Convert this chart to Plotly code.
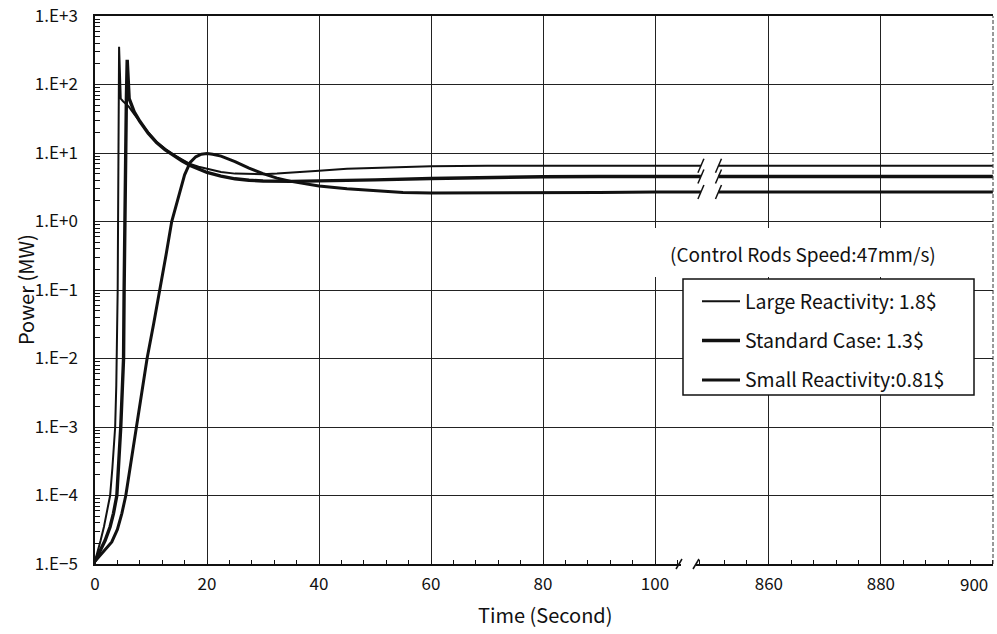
import math
import plotly.graph_objects as go

# ---------------- data ----------------
large_t = [0, 0.5, 1.0, 1.6, 2.1, 2.7, 3.1, 3.4, 3.6, 3.8, 3.95, 4.05, 4.12, 4.2, 4.25, 4.3,
           4.45, 4.6, 5.0, 6.0, 7.0, 8.0, 9.5, 11, 12.5, 14, 15.5, 17, 18.5, 20, 22.5, 25,
           27.5, 30, 32.5, 35, 40, 45, 50, 55, 60, 70, 80, 90, 100, 108.2,
           851, 860, 870, 880, 890, 900]
large_p = [1.1e-5, 1.5e-5, 2.2e-5, 3.5e-5, 5.5e-5, 1.0e-4, 2.5e-4, 6e-4, 1.0e-3, 4e-3, 1.5e-2,
           0.1, 1.0, 10, 60, 355, 150, 62, 57, 48, 37, 29, 20, 14.5, 11.5, 9.5, 8.0, 6.9,
           6.3, 5.9, 5.3, 5.0, 4.9, 4.9, 5.0, 5.2, 5.5, 5.9, 6.1, 6.3, 6.4, 6.5, 6.5, 6.5,
           6.5, 6.5, 6.5, 6.5, 6.5, 6.5, 6.5, 6.5]

standard_t = [0, 0.8, 1.8, 2.7, 3.3, 3.9, 4.3, 4.6, 4.9, 5.1, 5.2, 5.3, 5.45, 5.6, 5.75, 5.9,
              6.1, 7.0, 8.0, 9.5, 11, 12.5, 14, 15.5, 17, 18.5, 20, 22.5, 25, 27.5, 30, 35,
              40, 45, 50, 60, 70, 80, 90, 100, 108.2,
              851, 860, 870, 880, 890, 900]
standard_p = [1.1e-5, 1.5e-5, 2.2e-5, 3.5e-5, 5.5e-5, 1.0e-4, 3e-4, 1.0e-3, 4e-3, 1.0e-2, 0.1,
              1.0, 10, 60, 230, 120, 62, 40, 29, 19.5, 14.2, 11.2, 9.2, 7.7, 6.6, 5.8, 5.2,
              4.6, 4.2, 4.0, 3.9, 3.85, 3.9, 3.95, 4.05, 4.25, 4.4, 4.5, 4.55, 4.55, 4.55,
              4.55, 4.55, 4.55, 4.55, 4.55, 4.55]

small_t = [0, 1, 2, 3, 4, 4.8, 5.5, 6.5, 7.4, 8.4, 9.3, 10.5, 11.6, 12.7, 13.7, 14.9, 16, 17,
           18, 19, 20, 21, 22.5, 25, 27.5, 30, 32.5, 35, 40, 45, 50, 55, 60, 70, 80, 90, 100,
           108.2, 851, 860, 870, 880, 890, 900]
small_p = [1.1e-5, 1.35e-5, 1.7e-5, 2.1e-5, 3.2e-5, 5.5e-5, 1.0e-4, 3.3e-4, 1.0e-3, 3.3e-3,
           1.0e-2, 3.3e-2, 0.1, 0.33, 1.0, 2.3, 4.8, 7.3, 8.8, 9.6, 9.8, 9.6, 9.0, 7.5, 6.0,
           5.0, 4.3, 3.85, 3.3, 3.0, 2.8, 2.65, 2.6, 2.6, 2.62, 2.65, 2.7, 2.7,
           2.7, 2.7, 2.7, 2.7, 2.7, 2.7]

series_names = ["Large Reactivity: 1.8$", "Standard Case: 1.3$", "Small Reactivity:0.81$"]
series_widths = [2.0, 3.4, 3.0]

y_tickvals = [1e-5, 1e-4, 1e-3, 1e-2, 1e-1, 1e0, 1e1, 1e2, 1e3]
y_ticktext = ["1.E\u22125", "1.E\u22124", "1.E\u22123", "1.E\u22122", "1.E\u22121",
              "1.E+0", "1.E+1", "1.E+2", "1.E+3"]
x_left_ticks = [0, 20, 40, 60, 80, 100]
x_left_text = ["0", "20", "40", "60", "80", "100"]
x_right_ticks = [860, 880, 900]
x_right_text = ["860", "880", ""]
x_last_label = "900"   # drawn slightly inset, as in the reference

note_text = "(Control Rods Speed:47mm/s)"
x_title = "Time (Second)"
y_title = "Power (MW)"

# ---------------- layout geometry ----------------
W, H = 997, 634
ML, MR, MT, MB = 95, 4, 16, 70
PW, PH = W - ML - MR, H - MT - MB
PX_PER_S = 5.6
left_range = [0, 108.57]
left_end = (left_range[1] - left_range[0]) * PX_PER_S / PW
right_range = [900.02 - (PW * (1 - left_end)) / PX_PER_S, 900.02]
y_range = [-5, 3]
FONT = "Noto Sans CJK JP, Noto Sans, Arial, sans-serif"
INK = "#111111"


def px_to_paper_x(px):
    return (px - ML) / PW


def px_to_paper_y(py):
    return (H - MB - py) / PH


def data_to_paper(t, p):
    if t < 500:
        xp = left_end * (t - left_range[0]) / (left_range[1] - left_range[0])
    else:
        xp = left_end + (1 - left_end) * (t - right_range[0]) / (right_range[1] - right_range[0])
    yp = (math.log10(p) - y_range[0]) / (y_range[1] - y_range[0])
    return xp, yp


fig = go.Figure()
all_series = [(large_t, large_p), (standard_t, standard_p), (small_t, small_p)]
shapes = []
PXW = 1 / PW
PYH = 1 / PH
for (ts, ps), name, w in zip(all_series, series_names, series_widths):
    lt = [t for t in ts if t < 500]
    lp = [p for t, p in zip(ts, ps) if t < 500]
    rt = [t for t in ts if t >= 500]
    rp = [p for t, p in zip(ts, ps) if t >= 500]
    fig.add_trace(go.Scatter(x=lt, y=lp, mode="lines", name=name, legendgroup=name,
                             line=dict(color=INK, width=w), xaxis="x", yaxis="y"))
    fig.add_trace(go.Scatter(x=rt, y=rp, mode="lines", name=name, legendgroup=name,
                             showlegend=False, line=dict(color=INK, width=w),
                             xaxis="x2", yaxis="y"))
    # break marks "/" at the ends of each broken line
    for (t, p) in [(lt[-1], lp[-1]), (rt[0], rp[0])]:
        xp, yp = data_to_paper(t, p)
        shapes.append(dict(type="line", xref="paper", yref="paper",
                           x0=xp - 3 * PXW, y0=yp - 7 * PYH, x1=xp + 3 * PXW, y1=yp + 7 * PYH,
                           line=dict(color=INK, width=1.5), layer="above"))

# white patch behind note text (hides grid lines)
shapes.append(dict(type="rect", xref="paper", yref="paper",
                   x0=px_to_paper_x(645), x1=px_to_paper_x(990),
                   y0=px_to_paper_y(277), y1=px_to_paper_y(228),
                   fillcolor="white", line=dict(width=0), layer="above"))
# legend box
shapes.append(dict(type="rect", xref="paper", yref="paper",
                   x0=px_to_paper_x(683), x1=px_to_paper_x(974),
                   y0=px_to_paper_y(395), y1=px_to_paper_y(279),
                   fillcolor="white", line=dict(color=INK, width=1.5), layer="above"))
# axis break on the bottom axis
shapes.append(dict(type="rect", xref="paper", yref="paper",
                   x0=px_to_paper_x(681), x1=px_to_paper_x(696),
                   y0=px_to_paper_y(568), y1=px_to_paper_y(560),
                   fillcolor="white", line=dict(width=0), layer="above"))
for bx in (679, 696):
    shapes.append(dict(type="line", xref="paper", yref="paper",
                       x0=px_to_paper_x(bx - 3), y0=px_to_paper_y(569),
                       x1=px_to_paper_x(bx + 3), y1=px_to_paper_y(559),
                       line=dict(color=INK, width=1.5), layer="above"))
# right border
shapes.append(dict(type="line", xref="paper", yref="paper", x0=1, x1=1, y0=0, y1=1,
                   line=dict(color="#333333", width=1, dash="4px,2px"), layer="above"))

minor_y = [m * 10 ** e for e in range(-5, 3) for m in range(2, 10)]

axis_common = dict(showgrid=True, gridcolor="#222222", gridwidth=1, zeroline=False,
                   showline=True, linecolor=INK, linewidth=1.5, mirror=True,
                   ticks="", tickfont=dict(family=FONT, size=17, color=INK),
                   ticklabelstandoff=4, automargin=False,
                   minor=dict(ticks="inside", ticklen=4, tickcolor=INK, tickwidth=1,
                              dtick=4, tick0=0, showgrid=False))

fig.update_layout(
    width=W, height=H,
    margin=dict(l=ML, r=MR, t=MT, b=MB),
    paper_bgcolor="white", plot_bgcolor="white",
    font=dict(family=FONT, size=17, color=INK),
    showlegend=True,
    legend=dict(x=px_to_paper_x(697), y=px_to_paper_y(282), xanchor="left", yanchor="top",
                bgcolor="rgba(0,0,0,0)", borderwidth=0, tracegroupgap=11, itemwidth=38,
                font=dict(family=FONT, size=19.5, color=INK), itemsizing="trace"),
    xaxis=dict(domain=[0, left_end], range=left_range, anchor="y",
               tickmode="array", tickvals=x_left_ticks, ticktext=x_left_text, **axis_common),
    xaxis2=dict(domain=[left_end, 1], range=right_range, anchor="y",
                tickmode="array", tickvals=x_right_ticks, ticktext=x_right_text, **axis_common),
    yaxis=dict(type="log", range=y_range, anchor="x", tickmode="array",
               tickvals=y_tickvals, ticktext=y_ticktext,
               showgrid=True, gridcolor="#222222", gridwidth=1, zeroline=False,
               showline=True, linecolor=INK, linewidth=1.5, mirror=False,
               ticks="", ticklabelstandoff=12, automargin=False,
               tickfont=dict(family=FONT, size=17, color=INK),
               minor=dict(ticks="inside", ticklen=5, tickcolor=INK, tickwidth=1,
                          tickvals=minor_y, showgrid=False)),
    shapes=shapes,
    annotations=[
        dict(text=note_text, xref="paper", yref="paper",
             x=px_to_paper_x(803), y=px_to_paper_y(254), xanchor="center", yanchor="middle",
             showarrow=False, font=dict(family=FONT, size=19, color=INK)),
        dict(text=x_last_label, xref="paper", yref="paper",
             x=px_to_paper_x(990), y=px_to_paper_y(583), xanchor="right", yanchor="middle",
             showarrow=False, font=dict(family=FONT, size=17, color=INK)),
        dict(text=x_title, xref="paper", yref="paper",
             x=px_to_paper_x(545), y=px_to_paper_y(614), xanchor="center", yanchor="middle",
             showarrow=False, font=dict(family=FONT, size=20, color=INK)),
        dict(text=y_title, xref="paper", yref="paper", textangle=-90,
             x=px_to_paper_x(25), y=px_to_paper_y(290), xanchor="center", yanchor="middle",
             showarrow=False, font=dict(family=FONT, size=20, color=INK)),
    ],
)

fig.write_html("out.html")
